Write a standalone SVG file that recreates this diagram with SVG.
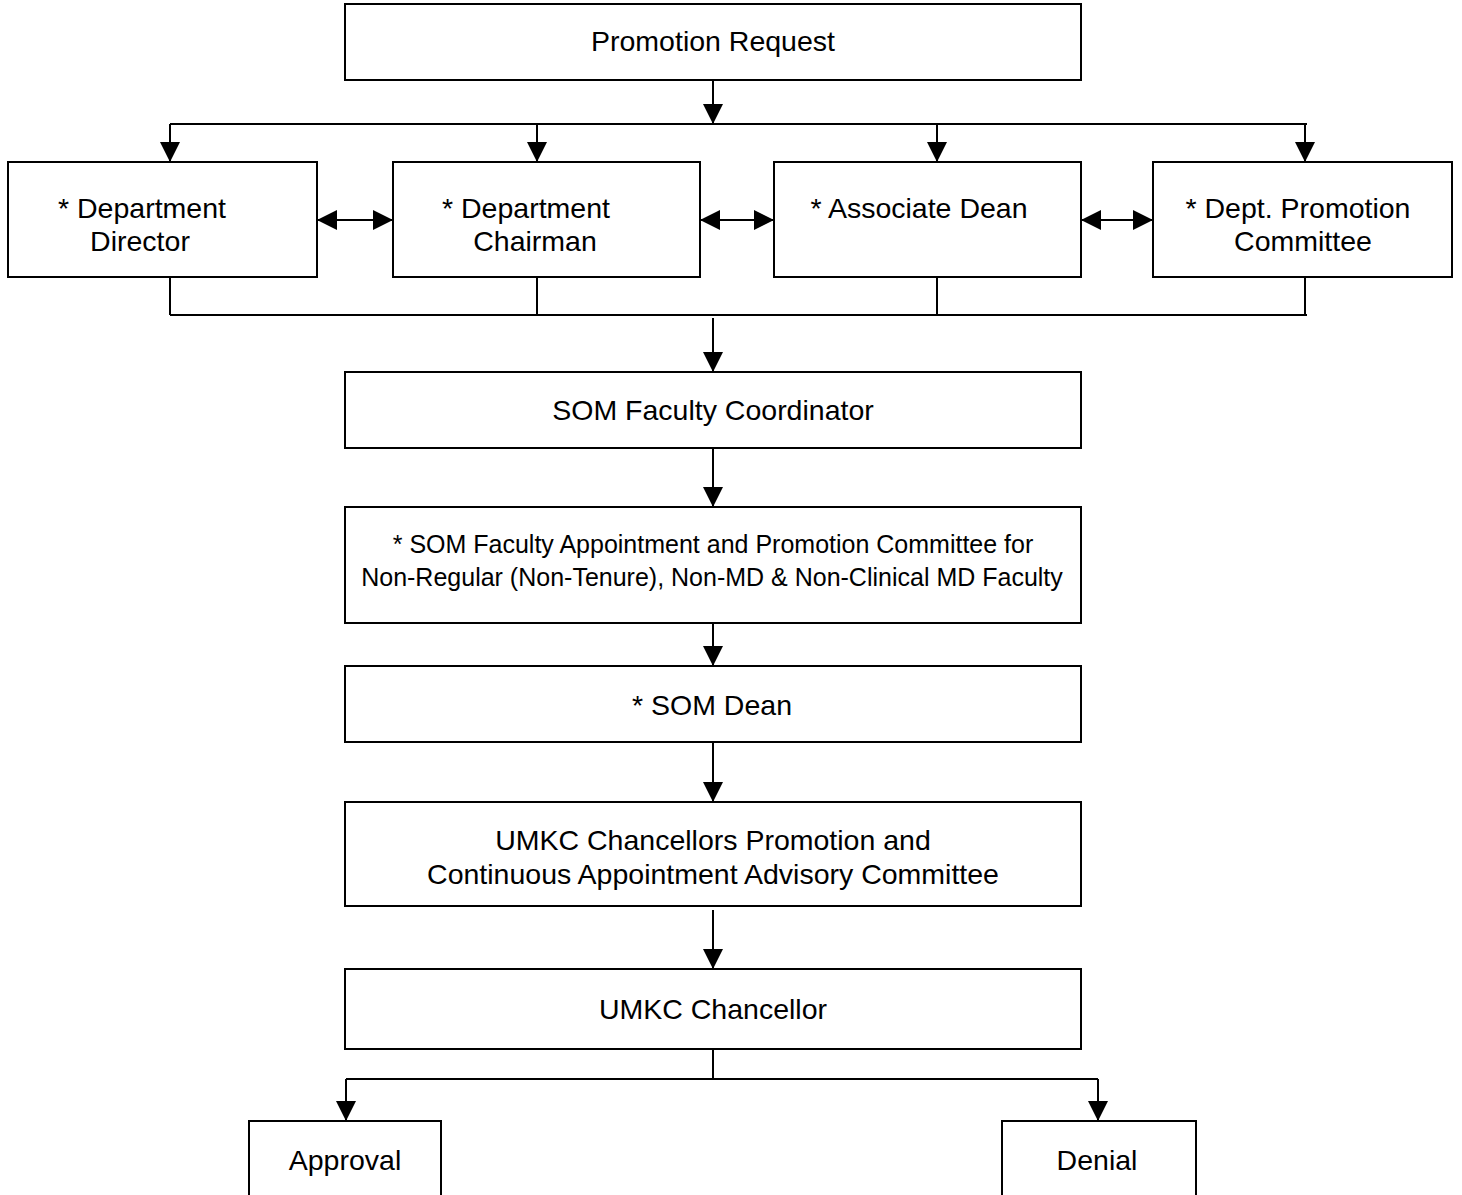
<svg xmlns="http://www.w3.org/2000/svg" width="1462" height="1195" viewBox="0 0 1462 1195">
<style>
.box{fill:#fff;stroke:#000;stroke-width:2}
.ln{fill:none;stroke:#000;stroke-width:2}
.arr{fill:none;stroke:#000;stroke-width:2;marker-end:url(#ah)}
.dbl{fill:none;stroke:#000;stroke-width:2;marker-start:url(#ah);marker-end:url(#ah)}
text{font-family:"Liberation Sans",Arial,sans-serif;font-size:28.5px;fill:#000;text-anchor:middle}
.sm{font-size:25px}
</style>
<defs>
<marker id="ah" markerUnits="userSpaceOnUse" markerWidth="20" markerHeight="20" refX="20" refY="10" orient="auto-start-reverse">
<path d="M0,0 L20,10 L0,20 z" fill="#000"/>
</marker>
</defs>
<rect width="1462" height="1195" fill="#fff"/>
<g id="connectors">
<path class="arr" d="M713,81 V124"/>
<path class="ln" d="M170,124 H1307"/>
<path class="arr" d="M170,124 V162"/>
<path class="arr" d="M537,124 V162"/>
<path class="arr" d="M937,124 V162"/>
<path class="arr" d="M1305,124 V162"/>
<path class="dbl" d="M317,220 H393"/>
<path class="dbl" d="M700,220 H774"/>
<path class="dbl" d="M1081,220 H1153"/>
<path class="ln" d="M170,277 V315 M537,277 V315 M937,277 V315 M1305,277 V315 M170,315 H1307"/>
<path class="arr" d="M713,318 V372"/>
<path class="arr" d="M713,448 V507"/>
<path class="arr" d="M713,616 V666"/>
<path class="arr" d="M713,742 V802"/>
<path class="arr" d="M713,910 V969"/>
<path class="ln" d="M713,1049 V1079 M346,1079 H1098"/>
<path class="arr" d="M346,1079 V1121"/>
<path class="arr" d="M1098,1079 V1121"/>
</g>
<g id="promotion-request"><rect class="box" x="345" y="4" width="736" height="76"/><text x="713" y="51">Promotion Request</text></g>
<g id="dept-director"><rect class="box" x="8" y="162" width="309" height="115"/><text x="142" y="218">* Department</text><text x="140" y="251">Director</text></g>
<g id="dept-chairman"><rect class="box" x="393" y="162" width="307" height="115"/><text x="526" y="218">* Department</text><text x="535" y="251">Chairman</text></g>
<g id="associate-dean"><rect class="box" x="774" y="162" width="307" height="115"/><text x="919" y="218">* Associate Dean</text></g>
<g id="dept-promotion-committee"><rect class="box" x="1153" y="162" width="299" height="115"/><text x="1298" y="218">* Dept. Promotion</text><text x="1303" y="251">Committee</text></g>
<g id="som-faculty-coordinator"><rect class="box" x="345" y="372" width="736" height="76"/><text x="713" y="420">SOM Faculty Coordinator</text></g>
<g id="som-fap-committee"><rect class="box" x="345" y="507" width="736" height="116"/><text class="sm" x="713" y="553">* SOM Faculty Appointment and Promotion Committee for</text><text class="sm" x="712" y="586">Non-Regular (Non-Tenure), Non-MD &amp; Non-Clinical MD Faculty</text></g>
<g id="som-dean"><rect class="box" x="345" y="666" width="736" height="76"/><text x="712" y="715">* SOM Dean</text></g>
<g id="umkc-committee"><rect class="box" x="345" y="802" width="736" height="104"/><text x="713" y="850">UMKC Chancellors Promotion and</text><text x="713" y="884">Continuous Appointment Advisory Committee</text></g>
<g id="umkc-chancellor"><rect class="box" x="345" y="969" width="736" height="80"/><text x="713" y="1019">UMKC Chancellor</text></g>
<g id="approval"><rect class="box" x="249" y="1121" width="192" height="80"/><text x="345" y="1170">Approval</text></g>
<g id="denial"><rect class="box" x="1002" y="1121" width="194" height="80"/><text x="1097" y="1170">Denial</text></g>
</svg>
